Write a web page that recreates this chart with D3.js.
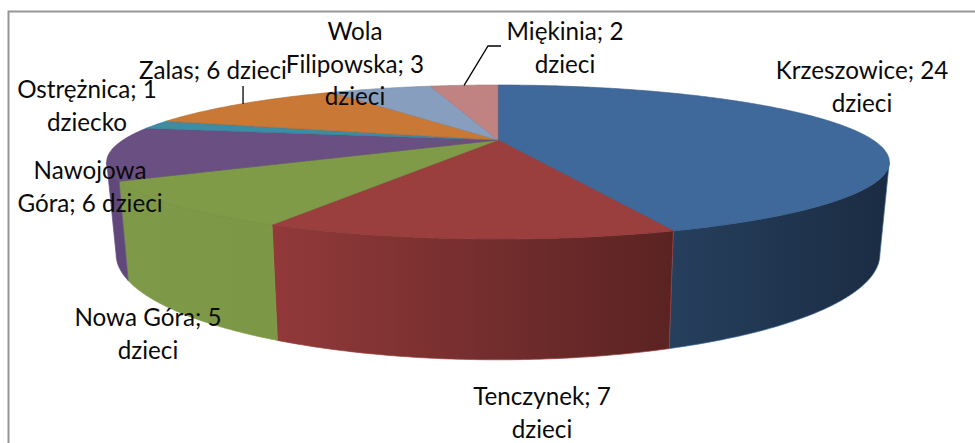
<!DOCTYPE html>
<html lang="pl">
<head>
  <meta charset="utf-8">
  <style>
    html, body { margin: 0; padding: 0; background: #fff; overflow: hidden; }
    svg { display: block; }
    text { font-family: Lato, "Open Sans", sans-serif; font-size: 24.2px; fill: #0a0a0a; text-anchor: middle; }
  </style>
</head>
<body>
<svg width="975" height="443"></svg>
<script src="https://d3js.org/d3.v7.min.js"></script>
<script>
// dane
const places = ["Krzeszowice", "Tenczynek", "Nowa Góra", "Nawojowa Góra", "Ostrężnica", "Zalas", "Wola Filipowska", "Miękinia"];
const children = [24, 7, 5, 6, 1, 6, 3, 2];
const labelLines = [
  ["Krzeszowice; 24", "dzieci"],
  ["Tenczynek; 7", "dzieci"],
  ["Nowa Góra; 5", "dzieci"],
  ["Nawojowa", "Góra; 6 dzieci"],
  ["Ostrężnica; 1", "dziecko"],
  ["Zalas; 6 dzieci"],
  ["Wola", "Filipowska; 3", "dzieci"],
  ["Miękinia; 2", "dzieci"]
];

const topColors = ["#3f699b", "#9a3f3e", "#7f9b48", "#6a4f83", "#3d8ca5", "#c97935", "#889ebf", "#c08382"];
const sideStart = ["#263f5d", "#92393a", "#7e9a48", "#60497a", "#3d8ca5", "#c97935", "#889ebf", "#c08382"];
const sideEnd   = ["#1a2c42", "#5a2322", "#7c9846", "#60497a", "#3d8ca5", "#c97935", "#889ebf", "#c08382"];

// polozenie etykiet: srodek x i linia bazowa pierwszego wiersza
const labelPos = [[862, 79], [542, 405], [148, 326], [90, 179], [87, 98], [213, 79], [355, 40], [565, 40]];

const svg = d3.select("svg");

// ramka wykresu wychodzi poza prawa i dolna krawedz
svg.append("path")
  .attr("d", "M8.5,450V11.5H980")
  .attr("fill", "none")
  .attr("stroke", "#969696")
  .attr("stroke-width", 2);

// rzut perspektywiczny okregu: kat liczony od gory, zgodnie z zegarem
const persp = 0.2857;
function project(geo, a) {
  const u = Math.sin(a), v = Math.cos(a), w = 1 + persp * v;
  return [geo.cx + geo.rx * u / w, geo.cy - geo.ry * v / w];
}
const topFace = { cx: 498, cy: 140, rx: 375, ry: 70.7 };
const bottomFace = { cx: 498, cy: 224, rx: 366, ry: 97 };

const pie = d3.pie().sort(null).startAngle(0).endAngle(2 * Math.PI);
const arcs = pie(children);

function arcPoints(geo, a0, a1) {
  const n = Math.max(2, Math.ceil((a1 - a0) / 0.01));
  return d3.range(n + 1).map(i => project(geo, a0 + (a1 - a0) * i / n));
}
const line = d3.line();

// widoczna czesc boku: miedzy stycznymi do sylwetki
const sideFrom = Math.PI - Math.acos(persp);
const sideTo = Math.PI + Math.acos(persp);

const defs = svg.append("defs");
const sides = svg.append("g");
arcs.forEach((d, i) => {
  const a0 = Math.max(d.startAngle, sideFrom);
  const a1 = Math.min(d.endAngle, sideTo);
  if (a1 <= a0) return;

  const upper = arcPoints(topFace, a0, a1);
  const lower = arcPoints(bottomFace, a0, a1).reverse();
  const xs = upper.map(p => p[0]);

  const grad = defs.append("linearGradient")
    .attr("id", "side" + i)
    .attr("gradientUnits", "userSpaceOnUse")
    .attr("x1", d3.min(xs)).attr("x2", d3.max(xs))
    .attr("y1", 0).attr("y2", 0);
  grad.append("stop").attr("offset", 0).attr("stop-color", sideStart[i]);
  grad.append("stop").attr("offset", 1).attr("stop-color", sideEnd[i]);

  sides.append("path")
    .attr("d", line(upper.concat(lower)) + "Z")
    .attr("fill", `url(#side${i})`)
    .attr("stroke", topColors[i])
    .attr("stroke-width", 0.7)
    .attr("stroke-linejoin", "round");
});

// gorna powierzchnia
svg.append("g")
  .selectAll("path")
  .data(arcs)
  .join("path")
  .attr("d", d => line([[topFace.cx, topFace.cy]].concat(arcPoints(topFace, d.startAngle, d.endAngle))) + "Z")
  .attr("fill", (d, i) => topColors[i])
  .attr("stroke", (d, i) => d3.color(topColors[i]).darker(0.4))
  .attr("stroke-width", 0.6)
  .attr("stroke-linejoin", "round");

// linie odniesienia dla Zalas i Miękinia
const mid = d => (d.startAngle + d.endAngle) / 2;
const zalasAnchor = project(topFace, mid(arcs[places.indexOf("Zalas")]));
const miekAnchor = project(topFace, mid(arcs[places.indexOf("Miękinia")]));
svg.append("path")
  .attr("d", line([[zalasAnchor[0] + 2, zalasAnchor[1]], [zalasAnchor[0] + 2, 86]]))
  .attr("fill", "none").attr("stroke", "#000").attr("stroke-width", 1.3);
svg.append("path")
  .attr("d", line([miekAnchor, [488, 46], [501, 46]]))
  .attr("fill", "none").attr("stroke", "#000").attr("stroke-width", 1.3);

// etykiety
const labels = svg.append("g")
  .selectAll("text")
  .data(labelLines)
  .join("text")
  .attr("transform", (d, i) => `translate(${labelPos[i][0]},${labelPos[i][1]})`);
labels.selectAll("tspan")
  .data(d => d)
  .join("tspan")
  .attr("x", 0)
  .attr("y", (d, i) => i * 32.7)
  .text(d => d);
</script>
</body>
</html>
